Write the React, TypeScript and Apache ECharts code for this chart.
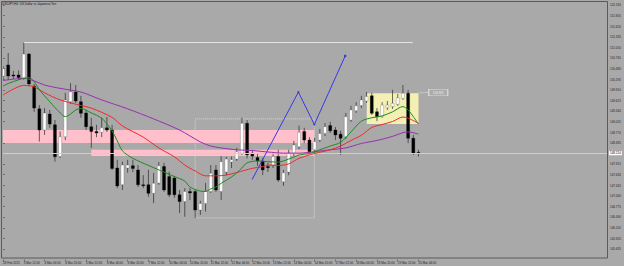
import React, { useEffect, useRef } from "react";
import * as echarts from "echarts";

// ---- data (USDJPY H4) ----
const TITLE = "USDJPY,H4  US Dollar vs Japanese Yen";

const DATE_LABELS = [
  "28 Feb 2025", "3 Mar 12:00", "4 Mar 04:00", "4 Mar 20:00", "5 Mar 12:00",
  "6 Mar 04:00", "6 Mar 20:00", "7 Mar 12:00", "10 Mar 04:00", "10 Mar 20:00",
  "11 Mar 12:00", "12 Mar 04:00", "12 Mar 20:00", "13 Mar 12:00", "14 Mar 04:00",
  "14 Mar 20:00", "17 Mar 12:00", "18 Mar 04:00", "18 Mar 20:00", "19 Mar 12:00",
  "20 Mar 04:00",
];
const BARS_PER_LABEL = 4;

// [open, close, low, high]
const CANDLES = [
  [150.28, 150.48, 150.20, 150.55], [150.58, 150.28, 150.18, 150.90], [150.31, 150.28, 150.20, 150.42],
  [150.31, 150.24, 150.18, 150.43], [150.23, 150.87, 150.18, 151.18], [150.87, 150.07, 150.01, 150.90],
  [150.01, 149.42, 149.32, 150.07], [149.40, 148.83, 148.52, 149.50], [148.83, 149.29, 148.70, 149.42],
  [149.26, 148.99, 148.89, 149.37], [148.97, 148.11, 147.98, 149.10], [148.12, 148.65, 148.08, 148.79],
  [148.65, 149.64, 148.56, 149.83], [149.59, 149.86, 149.53, 150.09], [149.85, 149.61, 149.56, 150.04],
  [149.59, 149.28, 149.16, 149.75], [149.29, 148.92, 148.83, 149.37], [148.92, 148.79, 148.35, 149.16],
  [148.79, 148.75, 148.64, 148.97], [148.77, 148.89, 148.64, 149.16], [148.89, 148.83, 148.78, 149.18],
  [148.83, 147.80, 147.76, 148.97], [147.81, 147.33, 147.27, 148.03], [147.36, 147.89, 147.22, 147.98],
  [147.81, 147.89, 147.68, 148.03], [147.87, 147.80, 147.70, 148.03], [147.76, 147.36, 147.30, 147.89],
  [147.36, 147.34, 147.27, 147.62], [147.36, 147.13, 147.04, 147.76], [147.13, 147.40, 146.87, 147.68],
  [147.41, 147.87, 147.36, 147.97], [147.85, 147.22, 147.17, 147.95], [147.58, 147.09, 147.03, 147.71],
  [147.54, 147.09, 147.01, 147.60], [147.09, 146.91, 146.60, 147.22], [146.91, 147.18, 146.50, 147.27],
  [147.18, 147.14, 146.95, 147.27], [147.18, 146.68, 146.46, 147.22], [146.68, 146.86, 146.55, 146.93],
  [146.86, 147.18, 146.64, 147.41], [147.18, 147.67, 147.14, 147.89], [147.76, 147.22, 147.17, 147.89],
  [147.18, 147.98, 146.95, 148.13], [147.70, 148.05, 147.62, 148.11], [147.97, 148.03, 147.81, 148.12],
  [148.05, 148.25, 148.00, 148.35], [148.21, 149.01, 148.16, 149.16], [149.01, 148.16, 148.07, 149.10],
  [148.21, 148.13, 148.03, 148.30], [148.09, 148.00, 147.87, 148.19], [148.00, 147.76, 147.62, 148.08],
  [147.85, 147.82, 147.70, 147.95], [147.89, 148.12, 147.81, 148.24], [148.12, 147.49, 147.44, 148.30],
  [147.44, 147.68, 147.33, 147.76], [147.70, 148.21, 147.62, 148.30], [148.21, 148.43, 148.13, 148.54],
  [148.38, 148.77, 148.32, 148.95], [148.79, 148.56, 148.48, 148.89], [148.56, 148.25, 148.19, 148.64],
  [148.30, 148.52, 148.21, 148.62], [148.56, 148.74, 148.51, 148.86], [148.74, 148.92, 148.67, 149.02],
  [148.95, 148.81, 148.75, 149.05], [148.83, 148.70, 148.56, 148.91], [148.72, 148.61, 148.16, 148.81],
  [148.65, 149.19, 148.59, 149.29], [149.10, 149.37, 149.05, 149.48], [149.35, 149.48, 149.29, 149.58],
  [149.49, 149.64, 149.42, 149.75], [149.61, 149.73, 149.56, 149.85], [149.75, 149.28, 149.24, 149.83],
  [149.32, 149.19, 149.07, 149.42], [149.19, 149.50, 149.16, 149.58], [149.43, 149.50, 149.37, 149.61],
  [149.46, 149.55, 149.40, 149.91], [149.52, 149.70, 149.48, 149.80], [149.68, 149.82, 149.64, 150.04],
  [149.82, 148.61, 148.48, 149.91], [148.61, 148.21, 148.16, 148.70], [148.23, 148.21, 148.12, 148.30],
];

// moving averages: [bar, price]
const MA_FAST = [
  [0, 150.01], [1, 150.08], [3, 150.18], [4, 150.22], [5, 150.24], [6, 150.13], [7, 149.91], [8, 149.75],
  [9, 149.59], [11, 149.29], [12, 149.19], [13, 149.26], [14, 149.37], [15, 149.41], [17, 149.29],
  [19, 149.15], [20, 148.99], [21, 148.81], [22, 148.54], [23, 148.27], [25, 148.07], [28, 147.88],
  [31, 147.70], [33, 147.58], [35, 147.46], [36, 147.30], [38, 147.19], [39, 147.18], [40, 147.25],
  [41, 147.30], [42, 147.40], [44, 147.57], [45, 147.68], [46, 147.81], [47, 147.95], [49, 148.00],
  [51, 147.98], [53, 147.97], [55, 148.05], [57, 148.16], [59, 148.20], [61, 148.30], [63, 148.40],
  [65, 148.50], [67, 148.78], [69, 149.07], [71, 149.16], [73, 149.21], [75, 149.32], [77, 149.46],
  [78, 149.37], [79, 149.19], [80, 148.99],
];
const MA_MID = [
  [0, 149.77], [2, 149.93], [4, 150.03], [6, 149.99], [8, 149.83], [11, 149.64], [15, 149.49],
  [17, 149.42], [21, 149.17], [23, 148.94], [27, 148.64], [30, 148.35], [33, 148.11], [35, 147.89],
  [37, 147.73], [39, 147.60], [41, 147.60], [43, 147.62], [45, 147.69], [48, 147.80], [50, 147.85],
  [51, 147.89], [53, 147.88], [55, 147.92], [57, 148.07], [60, 148.20], [63, 148.30], [65, 148.40],
  [67, 148.55], [69, 148.69], [71, 148.90], [73, 148.98], [75, 149.06], [77, 149.18], [78, 149.15],
  [80, 149.01],
];
const MA_SLOW = [
  [0, 150.16], [4, 150.22], [6, 150.15], [8, 150.04], [11, 149.95], [15, 149.85], [19, 149.64],
  [24, 149.40], [29, 149.13], [34, 148.83], [38, 148.51], [40, 148.40], [42, 148.35], [45, 148.30],
  [48, 148.28], [51, 148.24], [54, 148.21], [57, 148.21], [60, 148.25], [63, 148.30], [66, 148.35],
  [69, 148.47], [72, 148.55], [75, 148.66], [77, 148.76], [78, 148.78], [80, 148.72],
];

const BID = 148.21;
const BOX_PRICE_LABEL = "149.835";

// drawn objects, in [bar, price]
const ZIGZAG = [[47.96, 147.5], [56.87, 149.85], [59.94, 148.98], [65.88, 150.82]];
const ZONE_1 = [[0, 148.83], [59.94, 148.48]];
const ZONE_2 = [[17, 148.3], [59.94, 148.13]];
const DOTTED_BOX = [[37, 149.13], [59.94, 146.47]];
const YELLOW_BOX = [[70.04, 149.82], [80, 148.99]];
const HIGH_LINE = [[4, 151.18], [78.9, 151.18]];

const Y_MIN = 145.35;
const Y_MAX = 152.27;
const Y_STEP = 0.285;
const X_MAX = 116.29;

const FONT = "Liberation Sans";

export default function App() {
  const ref = useRef<HTMLDivElement>(null);

  useEffect(() => {
    if (!ref.current) return;
    const chart = echarts.init(ref.current, null, { renderer: "svg" });

    const candleData = CANDLES.map((c, i) => [i, c[0], c[1], c[2], c[3]]);
    const labelBars = DATE_LABELS.map((_, k) => k * BARS_PER_LABEL);

    const option: any = {
      animation: false,
      backgroundColor: "#a9a9a9",
      title: {
        text: TITLE,
        left: 2,
        top: 2,
        padding: 0,
        textStyle: { fontSize: 3, color: "#111", fontWeight: "normal", fontFamily: FONT },
      },
      grid: { left: 0.3, right: 17, top: 2, bottom: 6.4, containLabel: false },
      xAxis: {
        type: "value",
        min: 0,
        max: X_MAX,
        splitLine: { show: false },
        axisLine: { show: false },
        axisTick: {
          show: true,
          length: 2,
          customValues: labelBars,
          lineStyle: { color: "#333", width: 0.5 },
        },
        axisLabel: {
          fontSize: 3,
          color: "#222",
          fontFamily: FONT,
          margin: 1.5,
          align: "left",
          customValues: labelBars,
          formatter: (v: number) => {
            const k = Math.round(v / BARS_PER_LABEL);
            return k >= 0 && k < DATE_LABELS.length ? DATE_LABELS[k] : "";
          },
        },
      },
      yAxis: {
        type: "value",
        position: "right",
        min: Y_MIN,
        max: Y_MAX,
        interval: Y_STEP,
        splitLine: { show: false },
        axisLine: { show: false },
        axisTick: { show: true, length: 2, lineStyle: { color: "#333", width: 0.5 } },
        axisLabel: {
          fontSize: 3,
          color: "#222",
          fontFamily: FONT,
          margin: 3,
          showMinLabel: false,
          showMaxLabel: false,
          formatter: (v: number) => v.toFixed(3),
        },
      },
      graphic: [
        {
          type: "rect",
          shape: { x: 1.5, y: 1.5, width: 606, height: 256.5 },
          style: { fill: "none", stroke: "#5a5a5a", lineWidth: 1 },
          silent: true,
          z: 100,
        },
      ],
      series: [
        {
          type: "line",
          name: "objects",
          data: [],
          z: 1,
          silent: true,
          markArea: {
            silent: true,
            data: [
              [
                { coord: ZONE_1[0], itemStyle: { color: "#ffc0cb", opacity: 1 } },
                { coord: ZONE_1[1] },
              ],
              [
                { coord: ZONE_2[0], itemStyle: { color: "#ffc0cb", opacity: 1 } },
                { coord: ZONE_2[1] },
              ],
              [
                { coord: YELLOW_BOX[0], itemStyle: { color: "#f4efb2", opacity: 1 } },
                { coord: YELLOW_BOX[1] },
              ],
              [
                {
                  coord: DOTTED_BOX[0],
                  itemStyle: {
                    color: "rgba(0,0,0,0)",
                    borderColor: "#d6d6d6",
                    borderWidth: 1,
                    borderType: "dotted",
                  },
                },
                { coord: DOTTED_BOX[1] },
              ],
            ],
          },
          markLine: {
            silent: true,
            symbol: ["none", "none"],
            label: { show: false },
            data: [
              [
                { coord: HIGH_LINE[0], lineStyle: { color: "#e4e4e4", width: 1, type: "solid" } },
                { coord: HIGH_LINE[1] },
              ],
              [
                { coord: [80, 149.83], lineStyle: { color: "#d8d8d8", width: 0.6, type: "solid" } },
                { coord: [82, 149.84] },
              ],
              {
                yAxis: BID,
                lineStyle: { color: "#cfcfcf", width: 1, type: "solid" },
                label: {
                  show: true,
                  position: "end",
                  distance: 2,
                  formatter: BID.toFixed(3),
                  backgroundColor: "#ffffff",
                  color: "#000",
                  fontSize: 3,
                  fontFamily: FONT,
                  padding: [0.6, 1],
                },
              },
            ],
          },
          markPoint: {
            silent: true,
            data: [
              {
                coord: [83.8, 149.84],
                symbol: "rect",
                symbolSize: [19, 6.5],
                itemStyle: { color: "#ababab", borderColor: "#dcdcdc", borderWidth: 0.7 },
                label: {
                  show: true,
                  position: "inside",
                  formatter: BOX_PRICE_LABEL,
                  fontSize: 3,
                  color: "#ececec",
                  fontFamily: FONT,
                },
              },
            ],
          },
        },
        {
          type: "custom",
          name: "candles",
          z: 4,
          clip: true,
          encode: { x: 0, y: [1, 2, 3, 4] },
          data: candleData,
          renderItem: (params: any, api: any) => {
            const i = api.value(0);
            const o = api.value(1);
            const c = api.value(2);
            const l = api.value(3);
            const h = api.value(4);
            const pO = api.coord([i, o]);
            const pC = api.coord([i, c]);
            const pL = api.coord([i, l]);
            const pH = api.coord([i, h]);
            const x = pO[0];
            const w = 3;
            const top = Math.min(pO[1], pC[1]);
            const bh = Math.max(Math.abs(pO[1] - pC[1]), 0.9);
            const bull = c >= o;
            return {
              type: "group",
              children: [
                {
                  type: "line",
                  shape: { x1: x, y1: pH[1], x2: x, y2: pL[1] },
                  style: { stroke: "#2a2a2a", lineWidth: 0.7 },
                },
                {
                  type: "rect",
                  shape: { x: x - w / 2, y: top, width: w, height: bh },
                  style: {
                    fill: bull ? "#ffffff" : "#000000",
                    stroke: bull ? "#555555" : "#000000",
                    lineWidth: 0.3,
                  },
                },
              ],
            };
          },
        },
        {
          type: "line",
          name: "MA slow",
          data: MA_SLOW,
          smooth: 0.3,
          showSymbol: false,
          z: 5,
          lineStyle: { color: "#9a2fae", width: 1 },
        },
        {
          type: "line",
          name: "MA mid",
          data: MA_MID,
          smooth: 0.3,
          showSymbol: false,
          z: 5,
          lineStyle: { color: "#ee2a2a", width: 1 },
        },
        {
          type: "line",
          name: "MA fast",
          data: MA_FAST,
          smooth: 0.3,
          showSymbol: false,
          z: 5,
          lineStyle: { color: "#1f8a1f", width: 1 },
        },
        {
          type: "line",
          name: "zigzag",
          z: 10,
          color: "#3838e4",
          lineStyle: { color: "#3838e4", width: 1 },
          data: ZIGZAG.map((p, k) => ({
            value: p,
            symbol: k === 0 ? "none" : "circle",
            symbolSize: k === ZIGZAG.length - 1 ? 2.6 : 2,
          })),
        },
      ],
    };

    chart.setOption(option);
    return () => chart.dispose();
  }, []);

  return (
    <div
      ref={ref}
      style={{ position: "fixed", left: 0, top: 0, width: 624, height: 266, background: "#a9a9a9" }}
    />
  );
}
